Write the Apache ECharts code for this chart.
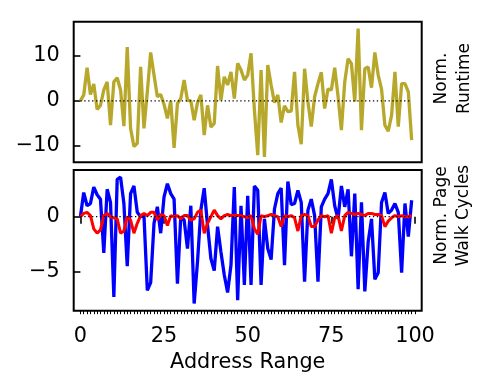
<!DOCTYPE html>
<html>
<head>
<meta charset="utf-8">
<script src="https://cdn.jsdelivr.net/npm/echarts/dist/echarts.min.js"></script>
<style>html,body{margin:0;padding:0;background:#fff}#c{width:490px;height:390px}</style>
</head>
<body>
<div id="c"></div>
<script>
const addressRange = [0,1,2,3,4,5,6,7,8,9,10,11,12,13,14,15,16,17,18,19,20,21,22,23,24,25,26,27,28,29,30,31,32,33,34,35,36,37,38,39,40,41,42,43,44,45,46,47,48,49,50,51,52,53,54,55,56,57,58,59,60,61,62,63,64,65,66,67,68,69,70,71,72,73,74,75,76,77,78,79,80,81,82,83,84,85,86,87,88,89,90,91,92,93,94,95,96,97,98,99];
const normRuntime = [0,1.3,7.3,1.4,3.7,-1.9,-1,2.4,4.2,-5.4,4.2,5.1,2.4,-5.6,11.9,-6.1,-10.1,-9.4,7.5,-6.1,2,10.7,5.7,0.9,1.4,-0.8,-3.9,0,-10.4,-0.6,0.5,4.6,0.1,0,-4.3,-0.4,1.3,-7.6,-1,-5.8,-5,7.7,0.1,5.3,3.5,6.4,0.5,8.3,6.8,4.6,5.7,10.5,-2,-12,6.8,-12.4,7.9,3.5,-0.4,1.3,-4.8,-1.1,-2.4,-2.3,6.4,-5.4,-9.6,7.1,-0.2,-5.7,0.9,3.8,6.3,-1.7,2.6,2.4,7.3,1,-6.5,4.2,9.3,8.2,-0.2,16,-6.5,7.1,7.5,2.9,10.7,5.7,2.6,-5.4,-6.7,-3.2,6.4,-5.7,3.8,3.8,2,-8.7];
const walkBlue = [0,2.2,1.0,1.2,2.7,2.0,1.6,-3.3,2.5,1.3,-7.3,3.4,3.6,1.2,-4.5,2.1,2.8,0.4,0,0.1,-6.7,-6.0,-0.6,0.9,-1.5,1.8,3.0,2.1,1.6,-6.1,0,-0.3,-2.9,1.0,-7.9,-4.1,0.6,2.6,-0.8,-3.8,-4.9,-0.9,-3.2,-5.3,-6.9,-4.4,2.7,-7.6,1.0,-6.2,1.9,-6.2,2.8,2.4,-6.2,-0.2,-2.9,-3.9,0.7,2.1,2.6,-4.4,3.2,1.1,1.2,2.4,1.3,-5.9,0.6,1.6,0.1,-5.9,0.9,1.6,2.1,3.4,1.0,-0.2,2.8,0.9,2.5,-3.6,2.1,-6.6,1.3,-6.8,-2.3,-0.2,-5.7,-5.1,1.3,2.2,0.3,0.6,1.2,0.4,-5.1,1.2,-1.8,1.5];
const walkRed = [0,0.3,0.4,0.1,-1.1,-1.5,-1.2,0.1,0.3,0,-0.1,-0.2,-1.5,-1.3,0,-0.3,-1.5,-0.6,0.1,0.3,0.1,0.4,0.4,-0.3,0.2,0.1,-0.8,0.1,0,0.1,-0.2,0.1,0.1,-0.3,-0.2,0.4,0.6,-1.5,-0.6,0,0.6,0.1,-0.2,0.1,0.2,0.1,0.1,0.1,0.1,0,-0.1,0.1,-1.1,-1.6,0.1,0,0.1,0.2,0.1,0,-0.9,0.1,0,0.1,-0.1,-1.3,0.1,0.2,0.1,-0.9,-0.9,-0.3,0.1,0,0.1,-1.5,-0.1,0.1,-1.3,0.1,0.4,0.3,0.2,0.3,0.2,0.1,0.3,0.3,0.2,0.2,0.1,-0.9,-0.4,-0.1,0.1,0,0.1,0,0,0.1];
const xMajorTicks = [0,25,50,75,100];
const xMinorTicks = [0,1,2,3,4,5,6,7,8,9,10,11,12,13,14,15,16,17,18,19,20,21,22,23,24,25,26,27,28,29,30,31,32,33,34,35,36,37,38,39,40,41,42,43,44,45,46,47,48,49,50,51,52,53,54,55,56,57,58,59,60,61,62,63,64,65,66,67,68,69,70,71,72,73,74,75,76,77,78,79,80,81,82,83,84,85,86,87,88,89,90,91,92,93,94,95,96,97,98,99,100];
const topYTicks = [-10,0,10];
const bottomYTicks = [-5,0];

const FONT = 'DejaVu Sans';
const FS = 20.8;
const FS_SIDE = 17;
const fmt = v => String(v).replace('-', '\u2212');
const pair = ys => addressRange.map((x, i) => [x, ys[i]]);
const zeroLine = [[addressRange[0], 0], [addressRange[addressRange.length - 1], 0]];

const chart = echarts.init(document.getElementById('c'), null, {renderer: 'canvas'});
const gridCommon = {left: 73.7, right: 68.3, show: true, borderColor: '#000', borderWidth: 2, backgroundColor: 'transparent'};
const noAxisLine = {show: false};
const yAxisCommon = (min, max, ticks, gi) => ({
  type: 'value', gridIndex: gi, min: min, max: max,
  axisLine: {show: false},
  splitLine: {show: false},
  axisTick: {show: true, customValues: ticks, length: 7, lineStyle: {color: '#000', width: 1.6}},
  axisLabel: {show: true, customValues: ticks, margin: 14, color: '#000', fontFamily: FONT, fontSize: FS, formatter: fmt}
});

chart.setOption({
  animation: false,
  grid: [
    Object.assign({top: 21.7, height: 140.6}, gridCommon),
    Object.assign({top: 170, height: 140.7}, gridCommon)
  ],
  xAxis: [
    {type: 'value', gridIndex: 0, min: -2, max: 102, axisLine: noAxisLine, axisTick: {show: false}, axisLabel: {show: false}, splitLine: {show: false}},
    {type: 'value', gridIndex: 1, min: -2, max: 102, position: 'bottom', axisLine: noAxisLine, splitLine: {show: false},
     axisTick: {show: true, customValues: xMajorTicks, length: 7, lineStyle: {color: '#000', width: 1.6}},
     axisLabel: {show: true, customValues: xMajorTicks, margin: 15, color: '#000', fontFamily: FONT, fontSize: FS, formatter: fmt}},
    {type: 'value', gridIndex: 1, min: -2, max: 102, position: 'bottom', offset: 0, axisLine: noAxisLine, splitLine: {show: false},
     axisTick: {show: true, customValues: xMinorTicks, length: 3.5, lineStyle: {color: '#000', width: 1}},
     axisLabel: {show: false}}
  ],
  yAxis: [
    yAxisCommon(-13.6, 17.5, topYTicks, 0),
    yAxisCommon(-8.55, 4.25, bottomYTicks, 1)
  ],
  series: [
    {type: 'line', xAxisIndex: 0, yAxisIndex: 0, data: pair(normRuntime), showSymbol: false, symbol: 'none',
     lineStyle: {color: '#b7a82b', width: 3.3}},
    {type: 'line', xAxisIndex: 0, yAxisIndex: 0, data: zeroLine, showSymbol: false, symbol: 'none',
     lineStyle: {color: '#000', width: 1.2, type: [1.3, 2.6]}},
    {type: 'line', xAxisIndex: 1, yAxisIndex: 1, data: pair(walkBlue), showSymbol: false, symbol: 'none',
     lineStyle: {color: '#0000ff', width: 3.3}},
    {type: 'line', xAxisIndex: 1, yAxisIndex: 1, data: pair(walkRed), showSymbol: false, symbol: 'none',
     lineStyle: {color: '#ff0000', width: 3}},
    {type: 'line', xAxisIndex: 1, yAxisIndex: 1, data: zeroLine, showSymbol: false, symbol: 'none',
     lineStyle: {color: '#000', width: 1.2, type: [1.3, 2.6]}}
  ],
  graphic: [
    {type: 'text', x: 247.7, y: 363, style: {text: 'Address Range', fontFamily: FONT, fontSize: FS, fill: '#000', align: 'center', verticalAlign: 'middle'}},
    {type: 'text', x: 453, y: 78.5, rotation: Math.PI / 2, style: {text: 'Norm.\nRuntime', fontFamily: FONT, fontSize: FS_SIDE, lineHeight: 22.5, fill: '#000', align: 'center', verticalAlign: 'middle'}},
    {type: 'text', x: 452.5, y: 215.5, rotation: Math.PI / 2, style: {text: 'Norm. Page\nWalk Cycles', fontFamily: FONT, fontSize: FS_SIDE, lineHeight: 22.5, fill: '#000', align: 'center', verticalAlign: 'middle'}}
  ]
});
</script>
</body>
</html>
